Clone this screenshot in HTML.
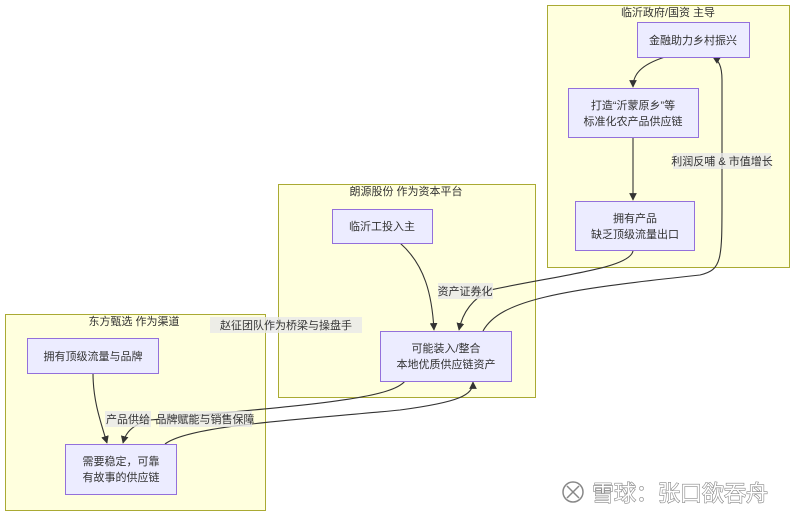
<!DOCTYPE html>
<html><head><meta charset="utf-8"><style>
html,body{margin:0;padding:0;background:#fff;width:800px;height:516px;overflow:hidden}
svg{font-family:"Liberation Sans","Noto Sans CJK SC",sans-serif}
.c{fill:#ffffde;stroke:#aaaa33;stroke-width:1}
.n{fill:#ececff;stroke:#9370db;stroke-width:1}
.e{fill:none;stroke:#333;stroke-width:1.1}
text{font-size:11px;fill:#333}
.lb{fill:#e8e8e8;opacity:.8}
</style></head><body>
<svg width="800" height="516" viewBox="0 0 800 516">
<defs><marker id="a" viewBox="0 0 10 10" refX="9" refY="5" markerWidth="7" markerHeight="7" orient="auto"><path d="M0,0L10,5L0,10z" fill="#333"/></marker></defs>
<rect class="c" x="547.5" y="5.5" width="242" height="262"/>
<rect class="c" x="278.5" y="184.5" width="257" height="213"/>
<rect class="c" x="5.5" y="314.5" width="260" height="196"/>
<text x="668" y="16" text-anchor="middle">临沂政府/国资 主导</text>
<text x="406" y="195" text-anchor="middle">朗源股份 作为资本平台</text>
<text x="134" y="325" text-anchor="middle">东方甄选 作为渠道</text>

<path class="e" d="M665,57 C640,65 633,75 633,87" marker-end="url(#a)"/>
<path class="e" d="M633,137 L633,200" marker-end="url(#a)"/>
<path class="e" d="M633,250 C633,268 560,275 490,290 C470,300 462,315 459,330" marker-end="url(#a)"/>
<path class="e" d="M400,243 C425,265 432,295 434,330" marker-end="url(#a)"/>
<path class="e" d="M483,331 C500,300 560,290 700,275 C722,270 722,260 722,200 L722,80 C722,65 718,60 713,57" marker-end="url(#a)"/>
<path class="e" d="M93,373 C93,400 100,420 107,443" marker-end="url(#a)"/>
<path class="e" d="M405,381 C390,400 300,405 150,420 C130,425 125,435 123,443" marker-end="url(#a)"/>
<path class="e" d="M165,444 C190,425 300,420 400,410 C460,402 473,395 473,382" marker-end="url(#a)"/>

<rect class="n" x="637.5" y="22.5" width="112" height="35"/>
<text x="693" y="44" text-anchor="middle">金融助力乡村振兴</text>
<rect class="n" x="568.5" y="88.5" width="130" height="49"/>
<text x="633" y="109" text-anchor="middle">打造“沂蒙原乡”等</text>
<text x="633" y="125" text-anchor="middle">标准化农产品供应链</text>
<rect class="n" x="575.5" y="201.5" width="119" height="49"/>
<text x="635" y="222" text-anchor="middle">拥有产品</text>
<text x="635" y="238" text-anchor="middle">缺乏顶级流量出口</text>
<rect class="n" x="332.5" y="209.5" width="100" height="34"/>
<text x="382" y="230" text-anchor="middle">临沂工投入主</text>
<rect class="n" x="380.5" y="331.5" width="131" height="50"/>
<text x="446" y="352" text-anchor="middle">可能装入/整合</text>
<text x="446" y="368" text-anchor="middle">本地优质供应链资产</text>
<rect class="n" x="27.5" y="338.5" width="131" height="35"/>
<text x="93" y="360" text-anchor="middle">拥有顶级流量与品牌</text>
<rect class="n" x="65.5" y="444.5" width="111" height="50"/>
<text x="121" y="465" text-anchor="middle">需要稳定，可靠</text>
<text x="121" y="481" text-anchor="middle">有故事的供应链</text>

<rect class="lb" x="673" y="153" width="98" height="16"/>
<text x="722" y="165" text-anchor="middle">利润反哺 &amp; 市值增长</text>
<rect class="lb" x="438" y="283" width="55" height="16"/>
<text x="465" y="295" text-anchor="middle">资产证券化</text>
<rect class="lb" x="210" y="317" width="152" height="16"/>
<text x="286" y="329" text-anchor="middle">赵征团队作为桥梁与操盘手</text>
<rect class="lb" x="105" y="411" width="46" height="16"/>
<text x="128" y="423" text-anchor="middle">产品供给</text>
<rect class="lb" x="159" y="411" width="93" height="16"/>
<text x="205" y="423" text-anchor="middle">品牌赋能与销售保障</text>

<g>
<circle cx="573" cy="492" r="10" fill="#fff" stroke="#888" stroke-width="1.5"/>
<path d="M567,486 L579,498 M579,486 L567,498" stroke="#888" stroke-width="1.5"/>
<text x="592" y="501" style="font-size:22px;fill:#fff;stroke:#888;stroke-width:1.2;paint-order:stroke">雪球：张口欲吞舟</text>
</g>
</svg>
</body></html>
